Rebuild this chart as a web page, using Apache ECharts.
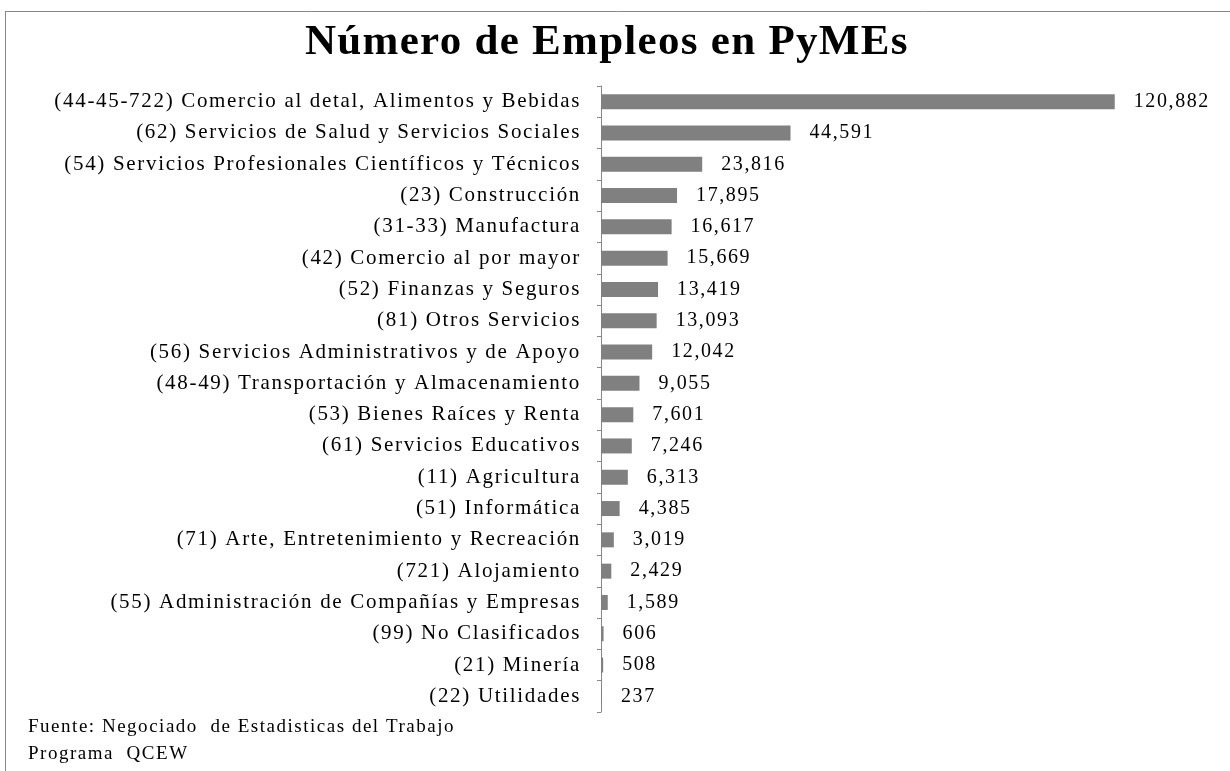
<!DOCTYPE html>
<html><head><meta charset="utf-8">
<script src="https://cdn.jsdelivr.net/npm/echarts@6/dist/echarts.min.js"></script>
<style>html,body{margin:0;padding:0;background:#fff}#c{width:1230px;height:771px}</style>
</head><body><div id="c"></div>
<script>
const categories = [
  "(44-45-722) Comercio al detal, Alimentos y Bebidas",
  "(62) Servicios de Salud y Servicios Sociales",
  "(54) Servicios Profesionales Científicos y Técnicos",
  "(23) Construcción",
  "(31-33) Manufactura",
  "(42) Comercio al por mayor",
  "(52) Finanzas y Seguros",
  "(81) Otros Servicios",
  "(56) Servicios Administrativos y de Apoyo",
  "(48-49) Transportación y Almacenamiento",
  "(53) Bienes Raíces y Renta",
  "(61) Servicios Educativos",
  "(11) Agricultura",
  "(51) Informática",
  "(71) Arte, Entretenimiento y Recreación",
  "(721) Alojamiento",
  "(55) Administración de Compañías y Empresas",
  "(99) No Clasificados",
  "(21) Minería",
  "(22) Utilidades"
];
const values = [120882, 44591, 23816, 17895, 16617, 15669, 13419, 13093, 12042, 9055, 7601, 7246, 6313, 4385, 3019, 2429, 1589, 606, 508, 237];
const titleText = "Número de Empleos en PyMEs";
const footerLines = ["Fuente: Negociado  de Estadisticas del Trabajo", "Programa  QCEW"];

// Slightly wider letter spacing to mimic the reference's GDI-style text rendering
(function () {
  const proto = CanvasRenderingContext2D.prototype;
  if (!('letterSpacing' in proto)) return;
  const orig = proto.fillText;
  proto.fillText = function (t, x, y, m) {
    const prev = this.letterSpacing;
    const mt = /(\d+(?:\.\d+)?)px/.exec(this.font || '');
    if (mt && /Liberation Serif/.test(this.font)) {
      const s = parseFloat(mt[1]);
      this.letterSpacing = (s >= 30 ? s * 0.03 : s * 0.08).toFixed(2) + 'px';
    }
    const r = m === undefined ? orig.call(this, t, x, y) : orig.call(this, t, x, y, m);
    this.letterSpacing = prev;
    return r;
  };
})();

const chart = echarts.init(document.getElementById('c'), null, {renderer: 'canvas'});
const serif = '"Liberation Serif", "Times New Roman", serif';
chart.setOption({
  animation: false,
  backgroundColor: '#fff',
  title: {
    text: titleText, left: 300, top: 16,
    textStyle: {fontFamily: serif, fontWeight: 'bold', fontSize: 43, color: '#000'}
  },
  grid: {left: 601, top: 86, width: 595, height: 626, containLabel: false},
  xAxis: {type: 'value', min: 0, max: 140000, show: false},
  yAxis: {
    type: 'category', data: categories, inverse: true,
    axisLine: {show: true, lineStyle: {color: '#888', width: 1}},
    axisTick: {show: true, length: 4, lineStyle: {color: '#888'}},
    axisLabel: {fontFamily: serif, fontSize: 21, color: '#000', margin: 20, interval: 0}
  },
  series: [{
    type: 'bar', data: values, barWidth: 15,
    itemStyle: {color: '#808080'},
    label: {
      show: true, position: 'right', distance: 19,
      fontFamily: serif, fontSize: 20, color: '#000',
      formatter: p => p.value.toLocaleString('en-US')
    }
  }],
  graphic: [
    {type: 'line', shape: {x1: 5, y1: 11.5, x2: 1230, y2: 11.5}, style: {stroke: '#888', lineWidth: 1}},
    {type: 'line', shape: {x1: 5.5, y1: 11, x2: 5.5, y2: 771}, style: {stroke: '#888', lineWidth: 1}},
    {type: 'text', left: 28, top: 718, style: {text: footerLines[0], font: '19px ' + serif, fill: '#000'}},
    {type: 'text', left: 28, top: 745, style: {text: footerLines[1], font: '19px ' + serif, fill: '#000'}}
  ]
});
</script></body></html>
